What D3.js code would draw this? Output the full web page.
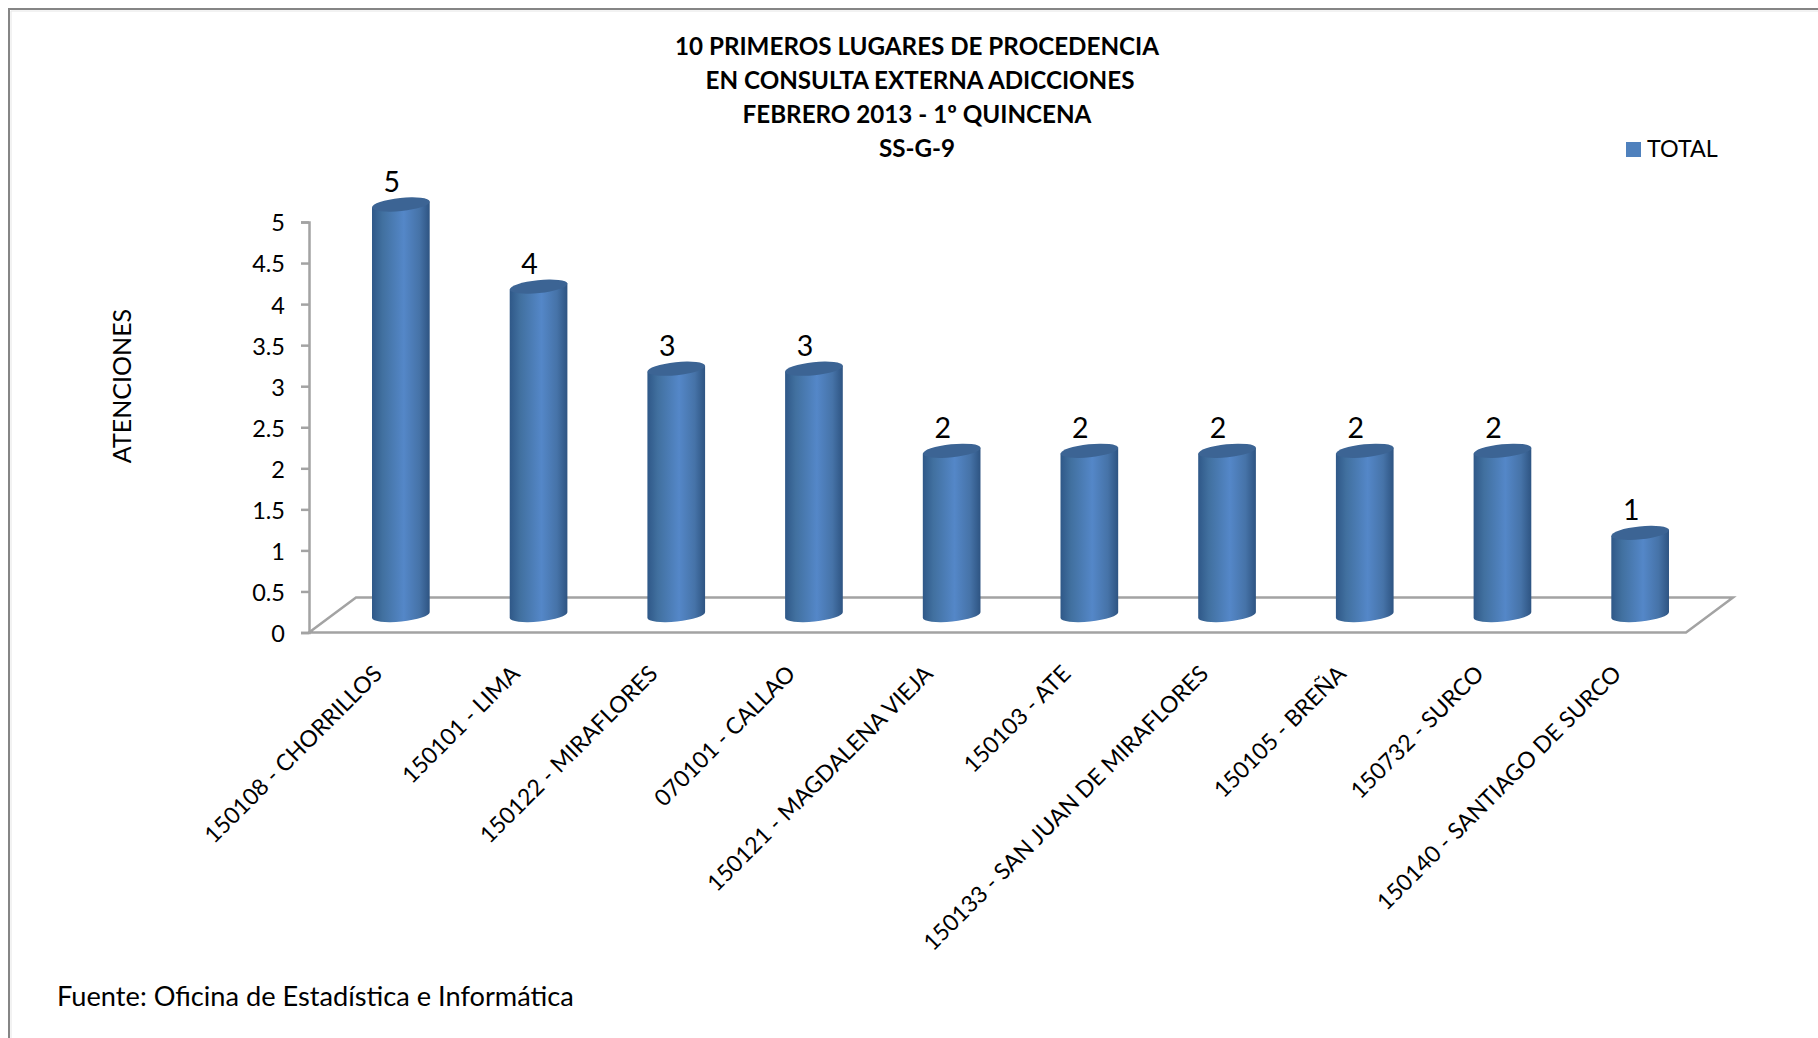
<!DOCTYPE html>
<html>
<head>
<meta charset="utf-8">
<script src="https://d3js.org/d3.v7.min.js"></script>
<style>
  html, body { margin: 0; padding: 0; background: #fff; }
  svg { display: block; }
  text { font-family: Lato, "Open Sans", sans-serif; fill: #000; }
</style>
</head>
<body>
<svg id="chart" width="1818" height="1038"></svg>
<script>
const lugares = [
  "150108 - CHORRILLOS", "150101 - LIMA", "150122 - MIRAFLORES", "070101 - CALLAO",
  "150121 - MAGDALENA VIEJA", "150103 - ATE", "150133 - SAN JUAN DE MIRAFLORES",
  "150105 - BREÑA", "150732 - SURCO", "150140 - SANTIAGO DE SURCO"
];
const total = [5, 4, 3, 3, 2, 2, 2, 2, 2, 1];
const yTicks = [0, 0.5, 1, 1.5, 2, 2.5, 3, 3.5, 4, 4.5, 5];
const titulo = [
  "10 PRIMEROS LUGARES DE PROCEDENCIA",
  "EN CONSULTA EXTERNA ADICCIONES",
  "FEBRERO 2013 - 1º QUINCENA",
  "SS-G-9"
];

const svg = d3.select("#chart");
const axisGrey = "#a3a3a3";

// 3d floor depth, in px
const depthX = 47, depthY = 35;
// cylinder size
const rx = 29, ry = 6.5, tilt = -6, lift = 17.5;

const xScale = d3.scaleBand().domain(lugares).range([332, 1709]).paddingInner(0.579).paddingOuter(0.2895);
const yScale = d3.scaleLinear().domain([0, 5]).range([632.5, 222]);

// page frame, top and left only
svg.append("path").attr("d", "M9,1038V9H1818").attr("fill", "none").attr("stroke", "#858585").attr("stroke-width", 2);
svg.append("path").attr("d", "M11,1038V11H1818").attr("fill", "none").attr("stroke", "#e6e6e6").attr("stroke-width", 1);

const defs = svg.append("defs");
const grad = defs.append("linearGradient").attr("id", "cyl").attr("x1", 0).attr("x2", 1).attr("y1", 0).attr("y2", 0);
grad.append("stop").attr("offset", "0%").attr("stop-color", "#2f5888");
grad.append("stop").attr("offset", "18%").attr("stop-color", "#41709f");
grad.append("stop").attr("offset", "55%").attr("stop-color", "#5487c8");
grad.append("stop").attr("offset", "82%").attr("stop-color", "#4673a8");
grad.append("stop").attr("offset", "100%").attr("stop-color", "#2e5482");

// floor
const x0 = 309, x1 = 1686, y0 = yScale(0);
svg.append("path")
  .attr("d", `M${x0},${y0}L${x0 + depthX},${y0 - depthY}H${x1 + depthX}L${x1},${y0}Z`)
  .attr("fill", "#fff")
  .attr("stroke", axisGrey)
  .attr("stroke-width", 2.5);

// y axis
const yAxis = d3.axisLeft(yScale).tickValues(yTicks).tickFormat(d => String(d)).tickSize(8).tickPadding(16);
const gy = svg.append("g").attr("transform", `translate(${x0},0)`).call(yAxis);
gy.select(".domain").attr("stroke", axisGrey).attr("stroke-width", 2.5);
gy.selectAll(".tick line").attr("stroke", axisGrey).attr("stroke-width", 2.5);
gy.selectAll(".tick text").style("font-size", "23.5px").style("font-family", "Lato").attr("dy", "0.38em");

// x axis, labels only
const xAxis = d3.axisBottom(xScale).tickSize(0);
const gx = svg.append("g").attr("transform", `translate(0,${y0})`).call(xAxis);
gx.select(".domain").remove();
gx.selectAll(".tick text")
  .style("font-size", "22.9px")
  .style("font-family", "Lato")
  .attr("text-anchor", "end")
  .attr("transform", "translate(-23,37) rotate(-45)")
  .attr("x", 0).attr("y", 0).attr("dy", "0.35em");

// cylinders
const bars = svg.append("g").selectAll("g").data(total).enter().append("g")
  .attr("transform", (d, i) => `translate(${xScale(lugares[i]) + xScale.bandwidth() / 2},0)`);

const dx = rx * Math.cos(tilt * Math.PI / 180), dy = rx * Math.sin(tilt * Math.PI / 180);
bars.append("path")
  .attr("fill", "url(#cyl)")
  .attr("d", d => {
    const top = yScale(d) - lift, bot = yScale(0) - lift;
    return `M${-dx},${top - dy}L${-dx},${bot - dy}` +
      `A${rx},${ry} ${tilt} 0 0 ${dx},${bot + dy}` +
      `L${dx},${top + dy}Z`;
  });
bars.append("ellipse")
  .attr("rx", rx).attr("ry", ry)
  .attr("fill", "#3c6494")
  .attr("transform", d => `translate(0,${yScale(d) - lift}) rotate(${tilt})`);

// value labels
bars.append("text")
  .attr("x", -9)
  .attr("y", d => yScale(d) - lift - 13)
  .attr("text-anchor", "middle")
  .style("font-size", "28.5px")
  .text(d => d);

// title, second line sits a bit to the right in the original
svg.append("g").selectAll("text").data(titulo).enter().append("text")
  .attr("x", (d, i) => i === 1 ? 920 : 917)
  .attr("y", (d, i) => 55 + i * 34)
  .attr("text-anchor", "middle")
  .style("font-size", "24.2px")
  .style("font-weight", "bold")
  .text(d => d);

// y axis title
svg.append("text")
  .attr("transform", "translate(131,386) rotate(-90)")
  .attr("text-anchor", "middle")
  .style("font-size", "25px")
  .text("ATENCIONES");

// legend
svg.append("rect").attr("x", 1626).attr("y", 142).attr("width", 15).attr("height", 15).attr("fill", "#4f81bd");
svg.append("text").attr("x", 1647).attr("y", 157).style("font-size", "23.3px").text("TOTAL");

// source
svg.append("text").attr("x", 57).attr("y", 1006).style("font-size", "27.2px").text("Fuente: Oficina de Estadística e Informática");
</script>
</body>
</html>
